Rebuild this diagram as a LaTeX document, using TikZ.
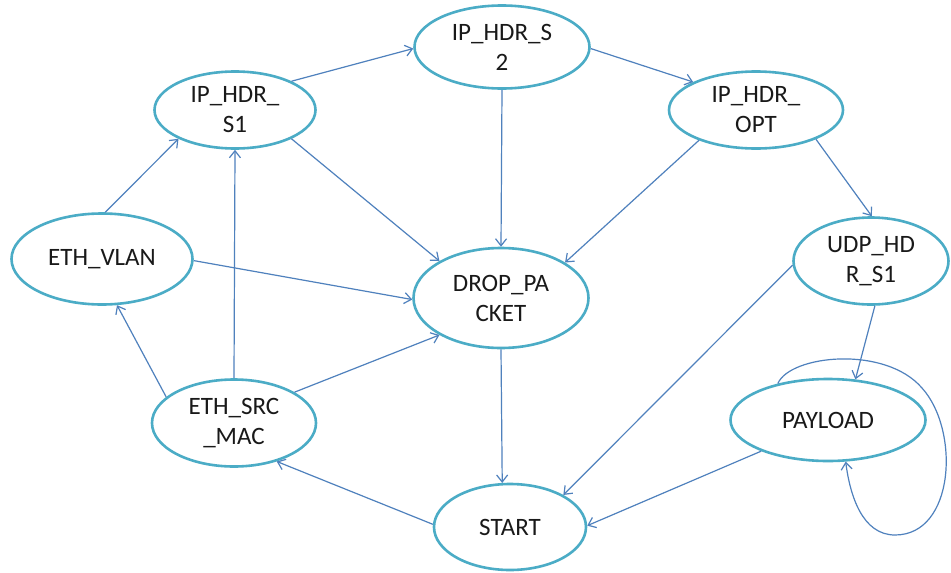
\documentclass[tikz,border=0pt]{standalone}
\usepackage{fontspec}
\setmainfont{Carlito}
\usetikzlibrary{shapes.geometric,arrows.meta}
\definecolor{edgeblue}{HTML}{4F81BD}
\definecolor{ringteal}{HTML}{4BACC6}
\tikzset{
  state/.style={ellipse, draw=ringteal, line width=2.6pt, fill=white, inner sep=0pt,
    align=center, font=\fontsize{25}{30}\selectfont, text=black!90},
  conn/.style={draw=edgeblue, line width=1.2pt, -{Straight Barb[length=7pt,width=11pt,line width=1.2pt]}}
}
\begin{document}
\begin{tikzpicture}[x=1pt,y=-1pt]
\useasboundingbox[fill=white] (0,0) rectangle (951,573);
\node[state, minimum width=175pt, minimum height=83pt]  (s2)    at (502,47)  {IP\_HDR\_S\\2};
\node[state, minimum width=161pt, minimum height=77pt]  (s1)    at (235,110) {IP\_HDR\_\\S1};
\node[state, minimum width=174pt, minimum height=77pt]  (opt)   at (756,110) {IP\_HDR\_\\OPT};
\node[state, minimum width=181pt, minimum height=91pt]  (vlan)  at (102,259) {ETH\_VLAN};
\node[state, minimum width=175pt, minimum height=100pt] (drop)  at (501,298) {DROP\_PA\\CKET};
\node[state, minimum width=155pt, minimum height=87pt]  (udp)   at (871,261) {UDP\_HD\\R\_S1};
\node[state, minimum width=164pt, minimum height=87pt]  (src)   at (234,423) {ETH\_SRC\\\_MAC};
\node[state, minimum width=195pt, minimum height=82pt]  (pay)   at (828,420) {PAYLOAD};
\node[state, minimum width=152pt, minimum height=86pt]  (start) at (510,527) {START};

\draw[conn] (s1.27) -- (s2.181);
\draw[conn] (s2.-1) -- (opt.156);
\draw[conn] (s2.-90) -- (drop.90);
\draw[conn] (s1.-27) -- (drop.149.5);
\draw[conn] (opt.208) -- (drop.29);
\draw[conn] (opt.-26) -- (udp.89);
\draw[conn] (vlan.86) -- (s1.207);
\draw[conn] (vlan.-1) -- (drop.181);
\draw[conn] (src.159) -- (vlan.-72);
\draw[conn] (src.90) -- (s1.-90);
\draw[conn] (src.27.7) -- (drop.-149);
\draw[conn] (drop.-90) -- (start.100);
\draw[conn] (start.178.5) -- (src.-42.5);
\draw[conn] (udp.183) -- (start.31);
\draw[conn] (udp.-85) -- (pay.56);
\draw[conn] (pay.205) -- (start.1.4);
\draw[conn] (pay.144) .. controls (790,355) and (885,345) .. (922,388)
   .. controls (960,430) and (955,535) .. (895,535)
   .. controls (862,535) and (850,495) .. (pay.-67);
\end{tikzpicture}
\end{document}
